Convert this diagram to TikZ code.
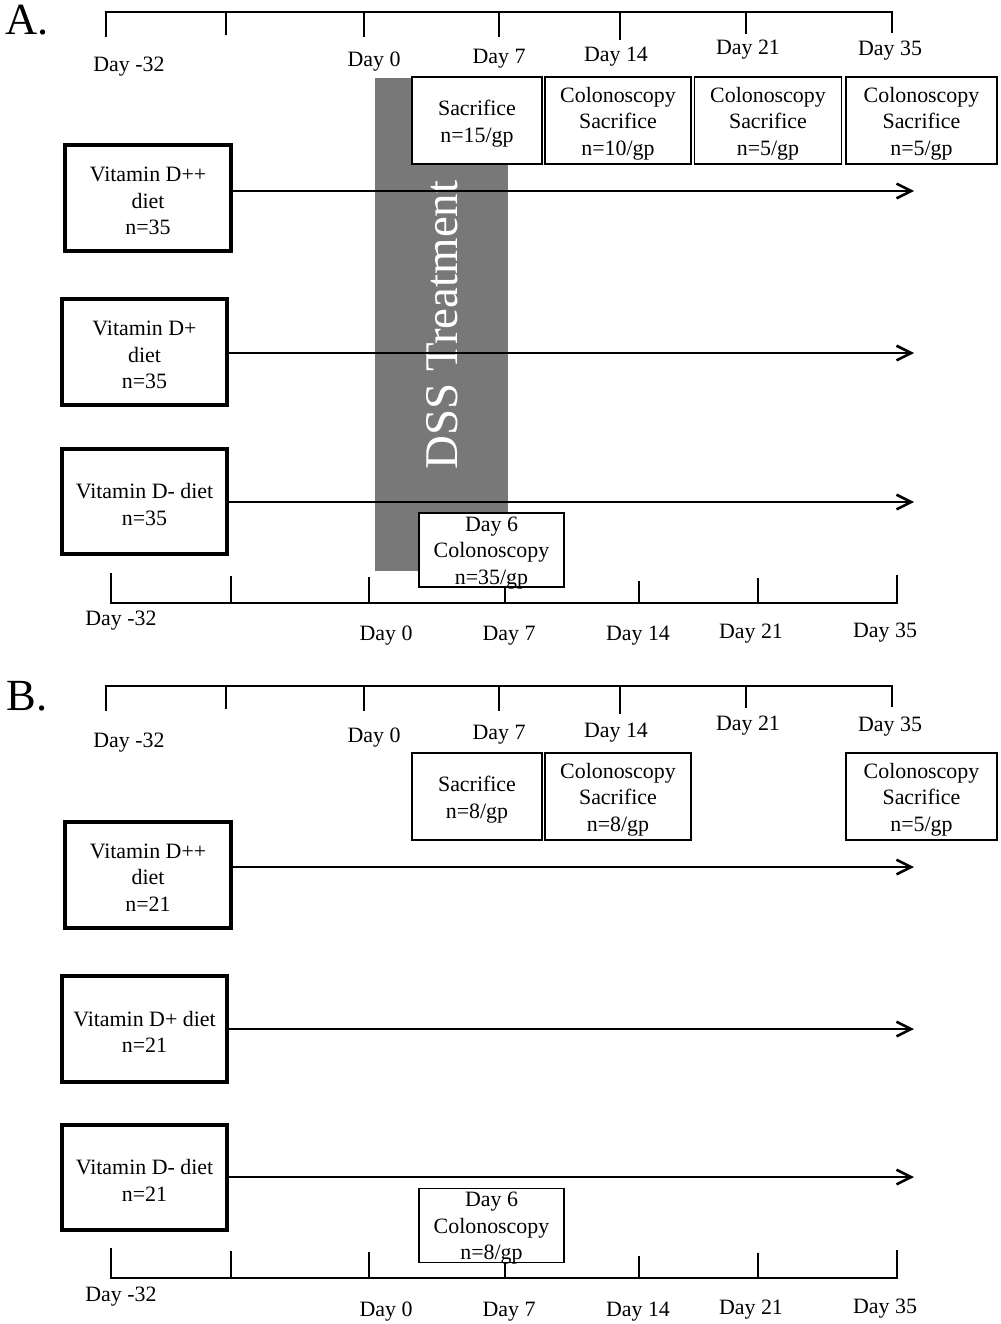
\documentclass[tikz,border=0pt]{standalone}
\usepackage{fontspec}
\setmainfont{Liberation Serif}
\usetikzlibrary{arrows.meta}
\begin{document}
\begin{tikzpicture}[x=0.3mm,y=-0.3mm,
  txt/.style={inner sep=0pt, align=center, font=\fontsize{18.7pt}{22.6pt}\selectfont},
  daylbl/.style={txt, yshift=-0.9mm},
  intxt/.style={txt, yshift=-0.9mm},
  panel/.style={inner sep=0pt, font=\fontsize{38pt}{40pt}\selectfont},
  dietbox/.style={draw, line width=3.4pt, fill=white, inner sep=0pt},
  evbox/.style={draw, line width=1.2pt, fill=white, inner sep=0pt},
  axis/.style={line width=2.4pt},
  flow/.style={line width=2.2pt, -{Straight Barb[length=4.4mm,width=4.4mm,line width=2.2pt]}},
  dss/.style={fill=black!53, draw=none}
]
\useasboundingbox (0,0) rectangle (1000,1324);

% ================= Panel A =================
\node[panel] (labA) at (27,20) {A.};
% top timeline
\coordinate (ta1) at (106,12); \coordinate (ta2) at (226,12); \coordinate (ta3) at (364,12);
\coordinate (ta4) at (499,12); \coordinate (ta5) at (620,12); \coordinate (ta6) at (746,12);
\coordinate (ta7) at (892,12);
\draw[axis] ([yshift=-25*0.3mm]ta1) -- (ta1) -- (ta7) -- ([yshift=-21*0.3mm]ta7);
\foreach \c/\l in {ta2/23, ta3/25, ta4/25, ta5/28, ta6/22}
  \draw[axis] (\c) -- ([yshift=-\l*0.3mm]\c);
\node[daylbl] (tla1) at (129,64) {Day -32};
\node[daylbl] (tla3) at (374,59) {Day 0};
\node[daylbl] (tla4) at (499,56) {Day 7};
\node[daylbl] (tla5) at (616,54) {Day 14};
\node[daylbl] (tla6) at (748,47) {Day 21};
\node[daylbl] (tla7) at (890,48) {Day 35};

% DSS band
\fill[dss] (375,78) rectangle (508,571);
\node[inner sep=0pt, rotate=90, text=white, font=\fontsize{40pt}{40pt}\selectfont] (dssA) at (442,325) {DSS Treatment};

% event boxes
\node[evbox, minimum width=130*0.3mm, minimum height=87*0.3mm,
  label={[intxt]center:{Sacrifice\\n=15/gp}}] (sa1) at (477,120.5) {};
\node[evbox, minimum width=146*0.3mm, minimum height=87*0.3mm,
  label={[intxt]center:{Colonoscopy\\Sacrifice\\n=10/gp}}] (sa2) at (618,120.5) {};
\node[evbox, minimum width=147*0.3mm, minimum height=87*0.3mm,
  label={[intxt]center:{Colonoscopy\\Sacrifice\\n=5/gp}}] (sa3) at (768,120.5) {};
\node[evbox, minimum width=151*0.3mm, minimum height=87*0.3mm,
  label={[intxt]center:{Colonoscopy\\Sacrifice\\n=5/gp}}] (sa4) at (921.5,120.5) {};

% diet boxes
\node[dietbox, minimum width=166*0.3mm, minimum height=106*0.3mm,
  label={[intxt]center:{Vitamin D++\\diet\\n=35}}] (dppA) at (148,198) {};
\node[dietbox, minimum width=165*0.3mm, minimum height=106*0.3mm,
  label={[intxt]center:{Vitamin D+\\diet\\n=35}}] (dpA) at (144.5,352) {};
\node[dietbox, minimum width=165*0.3mm, minimum height=105*0.3mm,
  label={[intxt]center:{Vitamin D- diet\\n=35}}] (dmA) at (144.5,501.5) {};

\coordinate (eA1) at (914,191);
\coordinate (eA2) at (914,353);
\coordinate (eA3) at (914,502);
\draw[flow] (dppA.east |- eA1) -- (eA1);
\draw[flow] (dpA.east |- eA2) -- (eA2);
\draw[flow] (dmA.east |- eA3) -- (eA3);

% bottom timeline
\coordinate (ba1) at (111,603); \coordinate (ba2) at (231,603); \coordinate (ba3) at (369,603);
\coordinate (ba4) at (505,603); \coordinate (ba5) at (639,603); \coordinate (ba6) at (758,603);
\coordinate (ba7) at (897,603);
\draw[axis] ([yshift=30*0.3mm]ba1) -- (ba1) -- (ba7) -- ([yshift=28*0.3mm]ba7);
\foreach \c/\l in {ba2/27, ba3/26, ba4/20, ba5/22, ba6/25}
  \draw[axis] (\c) -- ([yshift=\l*0.3mm]\c);
\node[evbox, minimum width=145*0.3mm, minimum height=74*0.3mm,
  label={[intxt]center:{Day 6\\Colonoscopy\\n=35/gp}}] (d6A) at (491.5,550) {};
\node[daylbl] (bla1) at (121,618) {Day -32};
\node[daylbl] (bla3) at (386,633) {Day 0};
\node[daylbl] (bla4) at (509,633) {Day 7};
\node[daylbl] (bla5) at (638,633) {Day 14};
\node[daylbl] (bla6) at (751,631) {Day 21};
\node[daylbl] (bla7) at (885,630) {Day 35};

% ================= Panel B =================
\node[panel] (labB) at (27,696) {B.};
\coordinate (tb1) at (106,686); \coordinate (tb2) at (226,686); \coordinate (tb3) at (364,686);
\coordinate (tb4) at (499,686); \coordinate (tb5) at (620,686); \coordinate (tb6) at (746,686);
\coordinate (tb7) at (892,686);
\draw[axis] ([yshift=-25*0.3mm]tb1) -- (tb1) -- (tb7) -- ([yshift=-21*0.3mm]tb7);
\foreach \c/\l in {tb2/23, tb3/25, tb4/25, tb5/28, tb6/22}
  \draw[axis] (\c) -- ([yshift=-\l*0.3mm]\c);
\node[daylbl] (tlb1) at (129,740) {Day -32};
\node[daylbl] (tlb3) at (374,735) {Day 0};
\node[daylbl] (tlb4) at (499,732) {Day 7};
\node[daylbl] (tlb5) at (616,730) {Day 14};
\node[daylbl] (tlb6) at (748,723) {Day 21};
\node[daylbl] (tlb7) at (890,724) {Day 35};

\node[evbox, minimum width=130*0.3mm, minimum height=87*0.3mm,
  label={[intxt]center:{Sacrifice\\n=8/gp}}] (sb1) at (477,796.5) {};
\node[evbox, minimum width=146*0.3mm, minimum height=87*0.3mm,
  label={[intxt]center:{Colonoscopy\\Sacrifice\\n=8/gp}}] (sb2) at (618,796.5) {};
\node[evbox, minimum width=151*0.3mm, minimum height=87*0.3mm,
  label={[intxt]center:{Colonoscopy\\Sacrifice\\n=5/gp}}] (sb4) at (921.5,796.5) {};

\node[dietbox, minimum width=166*0.3mm, minimum height=106*0.3mm,
  label={[intxt]center:{Vitamin D++\\diet\\n=21}}] (dppB) at (148,874.5) {};
\node[dietbox, minimum width=165*0.3mm, minimum height=106*0.3mm,
  label={[intxt]center:{Vitamin D+ diet\\n=21}}] (dpB) at (144.5,1029) {};
\node[dietbox, minimum width=165*0.3mm, minimum height=105*0.3mm,
  label={[intxt]center:{Vitamin D- diet\\n=21}}] (dmB) at (144.5,1177.5) {};

\coordinate (eB1) at (914,867);
\coordinate (eB2) at (914,1029);
\coordinate (eB3) at (914,1177);
\draw[flow] (dppB.east |- eB1) -- (eB1);
\draw[flow] (dpB.east |- eB2) -- (eB2);
\draw[flow] (dmB.east |- eB3) -- (eB3);

\coordinate (bb1) at (111,1278); \coordinate (bb2) at (231,1278); \coordinate (bb3) at (369,1278);
\coordinate (bb4) at (505,1278); \coordinate (bb5) at (639,1278); \coordinate (bb6) at (758,1278);
\coordinate (bb7) at (897,1278);
\draw[axis] ([yshift=30*0.3mm]bb1) -- (bb1) -- (bb7) -- ([yshift=28*0.3mm]bb7);
\foreach \c/\l in {bb2/27, bb3/26, bb4/20, bb5/22, bb6/25}
  \draw[axis] (\c) -- ([yshift=\l*0.3mm]\c);
\node[evbox, minimum width=145*0.3mm, minimum height=74*0.3mm,
  label={[intxt]center:{Day 6\\Colonoscopy\\n=8/gp}}] (d6B) at (491.5,1225.5) {};
\node[daylbl] (blb1) at (121,1294) {Day -32};
\node[daylbl] (blb3) at (386,1309) {Day 0};
\node[daylbl] (blb4) at (509,1309) {Day 7};
\node[daylbl] (blb5) at (638,1309) {Day 14};
\node[daylbl] (blb6) at (751,1307) {Day 21};
\node[daylbl] (blb7) at (885,1306) {Day 35};
\end{tikzpicture}
\end{document}
